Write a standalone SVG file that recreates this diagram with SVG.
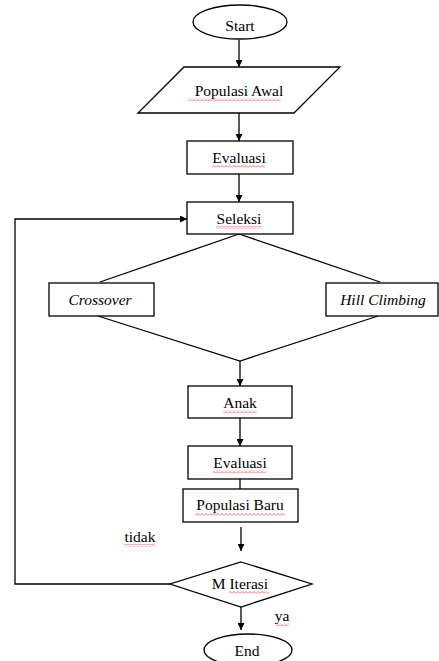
<svg xmlns="http://www.w3.org/2000/svg" width="439" height="661" viewBox="0 0 439 661">
<defs>
<marker id="arr" viewBox="0 0 10 10" refX="10" refY="5" markerWidth="7" markerHeight="7" markerUnits="userSpaceOnUse" orient="auto">
<path d="M0,0 L10,5 L0,10 z" fill="#000"/>
</marker>
<pattern id="wave" width="4" height="3" patternUnits="userSpaceOnUse">
<polyline points="0,2.5 2,0.5 4,2.5" fill="none" stroke="#e03030" stroke-width="0.7"/>
</pattern>
</defs>
<style>
.s{fill:#fff;stroke:#000;stroke-width:1.3}
.t{font-size:15.5px;fill:#000;text-anchor:middle}
.i{font-style:italic}
.c{fill:none;stroke:#000;stroke-width:1.3}
.w{fill:url(#wave)}
</style>
<rect width="439" height="661" fill="#fff"/>
<g id="connectors">
<line class="c" x1="239" y1="40" x2="239" y2="67" marker-end="url(#arr)"/>
<line class="c" x1="239" y1="113" x2="239" y2="141" marker-end="url(#arr)"/>
<line class="c" x1="239" y1="174" x2="239" y2="202" marker-end="url(#arr)"/>
<polyline class="c" points="239,234 100,282"/>
<polyline class="c" points="239,234 380,282"/>
<polyline class="c" points="98,316 240,361 378,316"/>
<line class="c" x1="240" y1="361" x2="240" y2="386" marker-end="url(#arr)"/>
<line class="c" x1="240" y1="418" x2="240" y2="446" marker-end="url(#arr)"/>
<line class="c" x1="240" y1="479" x2="240" y2="489"/>
<line class="c" x1="241" y1="527" x2="241" y2="551" marker-end="url(#arr)"/>
<polyline class="c" points="170,584 15,584 15,219 187,219" marker-end="url(#arr)"/>
<line class="c" x1="241" y1="607" x2="241" y2="630" marker-end="url(#arr)"/>
</g>
<g font-family="Liberation Serif">
<g id="start">
<ellipse class="s" cx="240" cy="22" rx="47" ry="17"/>
<text class="t" x="240" y="31">Start</text>
</g>
<g id="populasi-awal">
<polygon class="s" points="184,67 340,67 294,113 138,113"/>
<text class="t" x="239" y="96">Populasi Awal</text>
<rect class="w" x="188" y="98" width="93" height="3"/>
</g>
<g id="evaluasi1">
<rect class="s" x="187" y="141" width="106" height="33"/>
<text class="t" x="239" y="163">Evaluasi</text>
<rect class="w" x="212" y="165" width="53" height="3"/>
</g>
<g id="seleksi">
<rect class="s" x="187" y="202" width="106" height="32"/>
<text class="t" x="239" y="224">Seleksi</text>
<rect class="w" x="216" y="226" width="46" height="3"/>
</g>
<g id="crossover">
<rect class="s" x="49" y="283" width="105" height="33"/>
<text class="t i" x="100" y="305">Crossover</text>
</g>
<g id="hill-climbing">
<rect class="s" x="326" y="283" width="112" height="33"/>
<text class="t i" x="383" y="305">Hill Climbing</text>
</g>
<g id="anak">
<rect class="s" x="188" y="386" width="104" height="32"/>
<text class="t" x="240" y="408">Anak</text>
<rect class="w" x="223" y="410" width="34" height="3"/>
</g>
<g id="evaluasi2">
<rect class="s" x="188" y="446" width="104" height="33"/>
<text class="t" x="240" y="468">Evaluasi</text>
<rect class="w" x="213" y="470" width="53" height="3"/>
</g>
<g id="populasi-baru">
<rect class="s" x="183" y="489" width="115" height="33"/>
<text class="t" x="240" y="510">Populasi Baru</text>
<rect class="w" x="195" y="513" width="90" height="3"/>
</g>
<g id="m-iterasi">
<polygon class="s" points="241,562 312,584 241,607 170,584"/>
<text class="t" x="240" y="589">M Iterasi</text>
<rect class="w" x="229" y="591" width="40" height="3"/>
</g>
<g id="end">
<ellipse class="s" cx="248" cy="650" rx="44" ry="16"/>
<text class="t" x="247" y="656">End</text>
</g>
<g id="labels">
<text class="t" x="140" y="542">tidak</text>
<rect class="w" x="124" y="544" width="31" height="3"/>
<text class="t" x="282" y="621">ya</text>
<rect class="w" x="275" y="623" width="14" height="3"/>
</g>
</g>
</svg>
